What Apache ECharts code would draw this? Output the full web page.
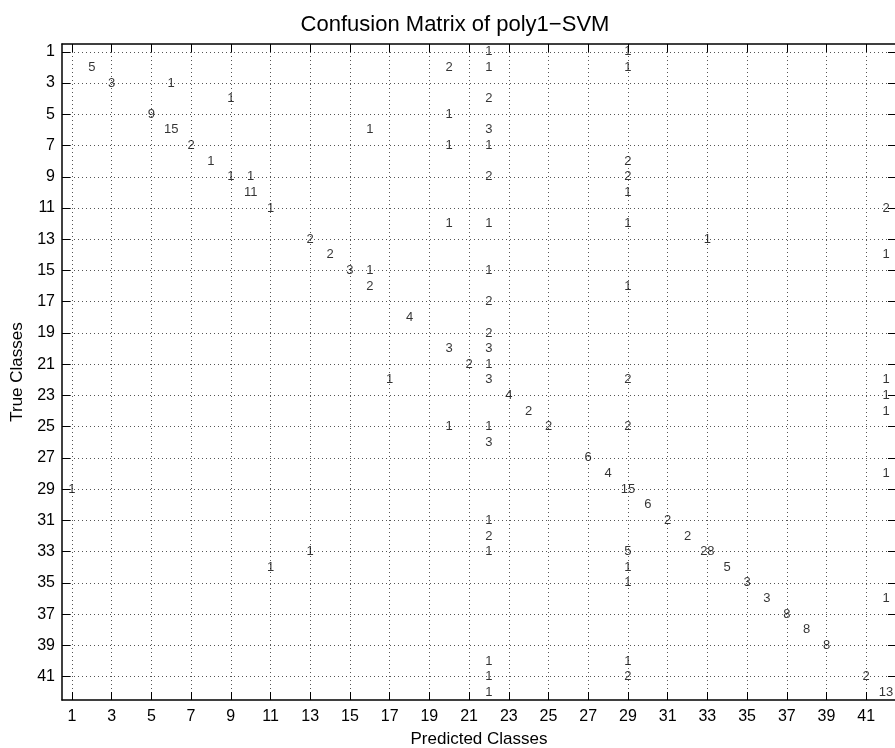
<!DOCTYPE html>
<html lang="en">
<head>
	<meta charset="UTF-8">
	<title>Confusion Matrix of poly1-SVM</title>
	<script src="https://cdn.jsdelivr.net/npm/echarts@6/dist/echarts.min.js"></script>
	<style>
		html, body { margin: 0; padding: 0; background: #fff; }
	</style>
</head>
<body>
	<div id="main" style="width: 895px;height: 748px"></div>
	<script>
	// predicted class (x), true class (y) and count of each non-empty cell
	var predCls = [
		22, 29,
		2, 20, 22, 29,
		3, 6,
		9, 22,
		5, 20,
		6, 16, 22,
		7, 20, 22,
		8, 29,
		9, 10, 22, 29,
		10, 29,
		11, 42,
		20, 22, 29,
		13, 33,
		14, 42,
		15, 16, 22,
		16, 29,
		22,
		18,
		22,
		20, 22,
		21, 22,
		17, 22, 29, 42,
		23, 42,
		24, 42,
		20, 22, 25, 29,
		22,
		27,
		28, 42,
		1, 29,
		30,
		22, 31,
		22, 32,
		13, 22, 29, 33,
		11, 29, 34,
		29, 35,
		36, 42,
		37,
		38,
		39,
		22, 29,
		22, 29, 41,
		22, 42
	];
	var trueCls = [
		1, 1,
		2, 2, 2, 2,
		3, 3,
		4, 4,
		5, 5,
		6, 6, 6,
		7, 7, 7,
		8, 8,
		9, 9, 9, 9,
		10, 10,
		11, 11,
		12, 12, 12,
		13, 13,
		14, 14,
		15, 15, 15,
		16, 16,
		17,
		18,
		19,
		20, 20,
		21, 21,
		22, 22, 22, 22,
		23, 23,
		24, 24,
		25, 25, 25, 25,
		26,
		27,
		28, 28,
		29, 29,
		30,
		31, 31,
		32, 32,
		33, 33, 33, 33,
		34, 34, 34,
		35, 35,
		36, 36,
		37,
		38,
		39,
		40, 40,
		41, 41, 41,
		42, 42
	];
	var counts = [
		1, 1,
		5, 2, 1, 1,
		3, 1,
		1, 2,
		9, 1,
		15, 1, 3,
		2, 1, 1,
		1, 2,
		1, 1, 2, 2,
		11, 1,
		1, 2,
		1, 1, 1,
		2, 1,
		2, 1,
		3, 1, 1,
		2, 1,
		2,
		4,
		2,
		3, 3,
		2, 1,
		1, 3, 2, 1,
		4, 1,
		2, 1,
		1, 1, 2, 2,
		3,
		6,
		4, 1,
		1, 15,
		6,
		1, 2,
		2, 2,
		1, 1, 5, 28,
		1, 1, 5,
		1, 3,
		3, 1,
		8,
		8,
		8,
		1, 1,
		1, 2, 2,
		1, 13
	];
	var xTicks = [1, 3, 5, 7, 9, 11, 13, 15, 17, 19, 21, 23, 25, 27, 29, 31, 33, 35, 37, 39, 41];
	var yTicks = [1, 3, 5, 7, 9, 11, 13, 15, 17, 19, 21, 23, 25, 27, 29, 31, 33, 35, 37, 39, 41];

	var cells = predCls.map(function (p, i) {
		return [p, trueCls[i], counts[i]];
	});

	var font = 'Liberation Sans, Arial, Helvetica, sans-serif';
	var lineCol = '#000';

	function mainAxis(pos, ticks, extra) {
		var ax = {
			type: 'value',
			position: pos,
			min: 0.5,
			max: 42.5,
			axisLine: { show: true, onZero: false, lineStyle: { color: lineCol, width: 1.5 } },
			axisTick: { show: true, inside: true, length: 8, customValues: ticks, lineStyle: { color: lineCol, width: 1 } },
			axisLabel: { show: true, customValues: ticks, color: '#000', fontSize: 16, fontFamily: font },
			splitLine: { show: true, lineStyle: { color: '#555', width: 1, type: [1, 3] } }
		};
		for (var k in extra) ax[k] = extra[k];
		return ax;
	}

	function sideAxis(pos, ticks, extra) {
		var ax = {
			type: 'value',
			position: pos,
			min: 0.5,
			max: 42.5,
			axisLine: { show: true, onZero: false, lineStyle: { color: lineCol, width: 1.5 } },
			axisTick: { show: true, inside: true, length: 8, customValues: ticks, lineStyle: { color: lineCol, width: 1 } },
			axisLabel: { show: false },
			splitLine: { show: false }
		};
		for (var k in extra) ax[k] = extra[k];
		return ax;
	}

	var option = {
		backgroundColor: '#fff',
		animation: false,
		title: {
			text: 'Confusion Matrix of poly1\u2212SVM',
			left: 450,
			top: 9,
			textAlign: 'center',
			textStyle: { fontSize: 22, fontWeight: 'normal', color: '#000', fontFamily: font }
		},
		grid: {
			left: 62,
			right: -1,
			top: 44,
			bottom: 48,
			containLabel: false,
			outerBoundsMode: 'none'
		},
		xAxis: [
			mainAxis('bottom', xTicks, {
				name: 'Predicted Classes',
				nameLocation: 'middle',
				nameGap: 31,
				nameTextStyle: { fontSize: 17, color: '#000', fontFamily: font },
				axisLabel: { show: true, customValues: xTicks, color: '#000', fontSize: 16, fontFamily: font, margin: 9 }
			}),
			sideAxis('top', xTicks, {})
		],
		yAxis: [
			mainAxis('left', yTicks, {
				inverse: true,
				name: 'True Classes',
				nameLocation: 'middle',
				nameGap: 33,
				nameTextStyle: { fontSize: 17, color: '#000', fontFamily: font },
				axisLabel: { show: true, customValues: yTicks, color: '#000', fontSize: 16, fontFamily: font, margin: 7 }
			}),
			sideAxis('right', yTicks, { inverse: true })
		],
		series: [{
			type: 'scatter',
			xAxisIndex: 0,
			yAxisIndex: 0,
			symbolSize: 1,
			itemStyle: { color: 'rgba(0,0,0,0)' },
			clip: false,
			label: {
				show: true,
				position: 'inside',
				color: '#000',
				textBorderWidth: 0,
				fontSize: 13,
				fontFamily: font,
				formatter: function (p) { return p.value[2]; }
			},
			data: cells
		}]
	};

	var myChart = echarts.init(document.getElementById('main'));
	myChart.setOption(option);
	</script>
</body>
</html>
